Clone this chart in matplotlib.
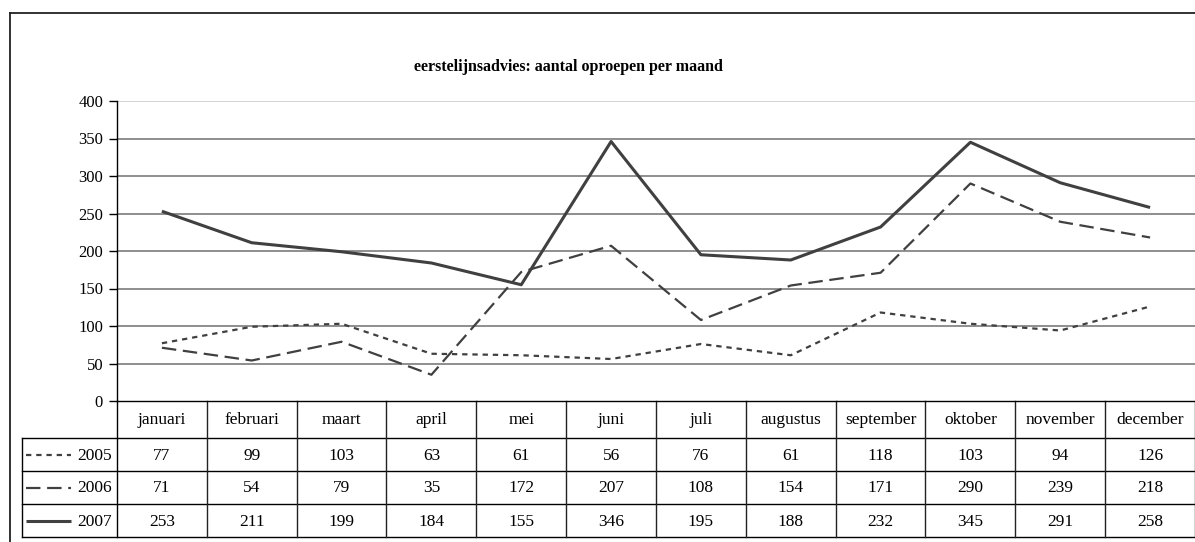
import matplotlib
matplotlib.use("Agg")
import matplotlib.pyplot as plt
from matplotlib.lines import Line2D

plt.rcParams['font.family'] = ['Liberation Serif', 'DejaVu Serif']

title = "eerstelijnsadvies: aantal oproepen per maand"
months = ["januari", "februari", "maart", "april", "mei", "juni", "juli",
          "augustus", "september", "oktober", "november", "december"]
years = ["2005", "2006", "2007"]
v2005 = [77, 99, 103, 63, 61, 56, 76, 61, 118, 103, 94, 126]
v2006 = [71, 54, 79, 35, 172, 207, 108, 154, 171, 290, 239, 218]
v2007 = [253, 211, 199, 184, 155, 346, 195, 188, 232, 345, 291, 258]
series = [v2005, v2006, v2007]
yticks = [0, 50, 100, 150, 200, 250, 300, 350, 400]

W, H = 1195, 542
fig = plt.figure(figsize=(W / 100, H / 100), dpi=100)

# pixel-space overlay axes
ov = fig.add_axes([0, 0, 1, 1], zorder=0)
ov.set_xlim(0, W)
ov.set_ylim(H, 0)
ov.axis('off')

px_l, px_r, px_t, px_b = 117, 1195, 101, 401
ax = fig.add_axes([px_l / W, (H - px_b) / H, (px_r - px_l) / W, (px_b - px_t) / H], zorder=2)
ax.patch.set_alpha(0)

color = '#404040'
styles = [dict(lw=1.6, dashes=(2.4, 2.2)),
          dict(lw=1.6, dashes=(6.5, 3)),
          dict(lw=2.2, linestyle='-')]
x = list(range(len(months)))
for vals, st in zip(series, styles):
    ax.plot(x, vals, color=color, solid_capstyle='butt', dash_capstyle='butt', zorder=3, **st)

ax.set_xlim(-0.5, len(months) - 0.5)
ax.set_ylim(0, 400)
ax.set_yticks(yticks)
ax.set_yticklabels([str(t) for t in yticks], fontsize=12)
ax.set_xticks([])
for t in yticks[1:]:
    ax.axhline(t, color='#c8c8c8' if t == yticks[-1] else '#707070', lw=1.1, zorder=1)
for s in ['top', 'right']:
    ax.spines[s].set_visible(False)
ax.spines['left'].set_color('black')
ax.spines['bottom'].set_color('black')
ax.spines['left'].set_linewidth(1)
ax.spines['bottom'].set_linewidth(1)
ax.tick_params(axis='y', length=6, width=1, pad=4, color='black')

# title
ov.text(568, 67, title, ha='center', va='center', fontsize=11.5, fontweight='bold')

# outer border (top and left visible)
ov.plot([10, W], [13, 13], color='#222222', lw=1.3)
ov.plot([10, 10], [13, H], color='#222222', lw=1.3)

# data table
colw = (px_r - px_l) / len(months)
rows_y = [401, 438, 471, 504, 537]
tab_l = 22
lc = 'black'
for y in rows_y[1:]:
    ov.plot([tab_l, px_r], [y, y], color=lc, lw=1)
ov.plot([tab_l, tab_l], [rows_y[1], rows_y[-1]], color=lc, lw=1)
for j in range(len(months) + 1):
    xx = px_l + j * colw
    ov.plot([xx, xx], [rows_y[0], rows_y[-1]], color=lc if j == 0 else '#222222', lw=1)
for j, m in enumerate(months):
    cx = px_l + (j + 0.5) * colw
    ov.text(cx, (rows_y[0] + rows_y[1]) / 2 + 1, m, ha='center', va='center', fontsize=12.5)
    for r, vals in enumerate(series):
        ov.text(cx, (rows_y[r + 1] + rows_y[r + 2]) / 2 + 1, str(vals[j]),
                ha='center', va='center', fontsize=12.5)
for r, (yr, st) in enumerate(zip(years, styles)):
    cy = (rows_y[r + 1] + rows_y[r + 2]) / 2
    ov.add_line(Line2D([26, 71], [cy, cy], color=color, solid_capstyle='butt',
                       dash_capstyle='butt', **st))
    ov.text(112, cy + 1, yr, ha='right', va='center', fontsize=12.5)

fig.savefig('out.png', dpi=100)
